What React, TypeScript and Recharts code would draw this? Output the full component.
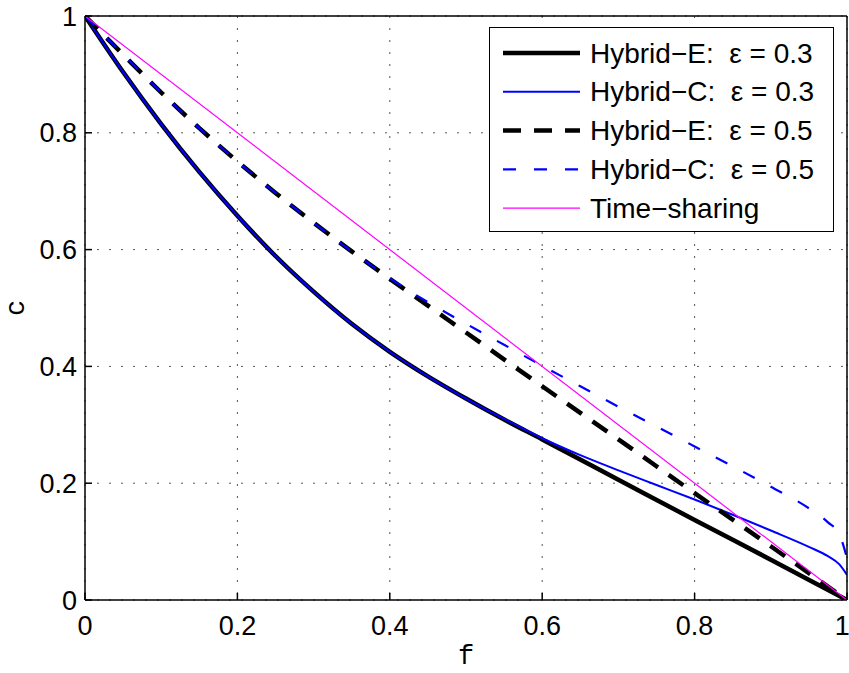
import { LineChart, Line, XAxis, YAxis, CartesianGrid, Legend, Label } from 'recharts';

// Hybrid-E, eps = 0.3
const fHybridE03 = [0, 0.05, 0.1, 0.15, 0.2, 0.25, 0.3, 0.35, 0.4, 0.45, 0.5, 0.55, 0.6, 0.7, 0.8, 0.9, 1];
const cHybridE03 = [1, 0.904, 0.815, 0.733, 0.658, 0.589, 0.528, 0.473, 0.425, 0.383, 0.345, 0.309, 0.275, 0.206, 0.137, 0.069, 0];

// Hybrid-C, eps = 0.3
const fHybridC03 = [0, 0.05, 0.1, 0.15, 0.2, 0.25, 0.3, 0.35, 0.4, 0.45, 0.5, 0.55, 0.6, 0.65, 0.7, 0.75, 0.8, 0.85, 0.9, 0.95, 0.975, 0.99, 1];
const cHybridC03 = [1, 0.904, 0.815, 0.733, 0.658, 0.589, 0.528, 0.473, 0.425, 0.383, 0.345, 0.31, 0.277, 0.248, 0.222, 0.197, 0.172, 0.146, 0.119, 0.091, 0.075, 0.061, 0.043];

// Hybrid-E, eps = 0.5
const fHybridE05 = [0, 0.05, 0.1, 0.15, 0.2, 0.25, 0.3, 0.35, 0.4, 0.45, 0.5, 0.6, 0.7, 0.8, 0.9, 1];
const cHybridE05 = [1, 0.934, 0.869, 0.808, 0.751, 0.697, 0.646, 0.597, 0.55, 0.504, 0.458, 0.366, 0.275, 0.183, 0.092, 0];

// Hybrid-C, eps = 0.5
const fHybridC05 = [0, 0.05, 0.1, 0.15, 0.2, 0.25, 0.3, 0.35, 0.4, 0.45, 0.5, 0.55, 0.6, 0.65, 0.7, 0.75, 0.8, 0.85, 0.9, 0.95, 0.975, 0.99, 1];
const cHybridC05 = [1, 0.934, 0.869, 0.808, 0.751, 0.697, 0.646, 0.597, 0.551, 0.51, 0.473, 0.437, 0.401, 0.366, 0.331, 0.297, 0.263, 0.229, 0.194, 0.157, 0.133, 0.112, 0.072];

// Time-sharing
const fTimeSharing = [0, 1];
const cTimeSharing = [1, 0];

const TICKS = [0, 0.2, 0.4, 0.6, 0.8, 1];
const TICK_LABELS = ['0', '0.2', '0.4', '0.6', '0.8', '1'];

const toPoints = (f: number[], c: number[]) => f.map((x, i) => ({ f: x, c: c[i] }));

const SERIES = [
  { name: 'Hybrid\u2212E:  \u03b5 = 0.3', data: toPoints(fHybridE03, cHybridE03), color: '#000000', width: 4.5, dash: undefined },
  { name: 'Hybrid\u2212C:  \u03b5 = 0.3', data: toPoints(fHybridC03, cHybridC03), color: '#0000ff', width: 2, dash: undefined },
  { name: 'Hybrid\u2212E:  \u03b5 = 0.5', data: toPoints(fHybridE05, cHybridE05), color: '#000000', width: 4.5, dash: '18 13' },
  { name: 'Hybrid\u2212C:  \u03b5 = 0.5', data: toPoints(fHybridC05, cHybridC05), color: '#0000ff', width: 2.2, dash: '13 18' },
  { name: 'Time\u2212sharing', data: toPoints(fTimeSharing, cTimeSharing), color: '#ff00ff', width: 1.2, dash: undefined },
];

const FONT = '"Liberation Sans", Arial, Helvetica, sans-serif';
const MONO = '"Liberation Mono", "Courier New", monospace';

const fmt = (v: number) => TICK_LABELS[TICKS.indexOf(v)] ?? String(v);

function LegendBox() {
  return (
    <div style={{ width: 345, height: 205, border: '1.5px solid #000', background: '#fff', boxSizing: 'border-box' }}>
      <svg width={342} height={202} style={{ display: 'block' }}>
        {SERIES.map((s, i) => {
          const y = 25 + i * 38.8;
          return (
            <g key={s.name}>
              <line x1={13} x2={90} y1={y} y2={y} stroke={s.color} strokeWidth={s.width} strokeDasharray={s.dash} />
              <text
                x={100}
                y={y}
                dominantBaseline="central"
                fontSize={28}
                fontFamily={FONT}
                fill="#000"
                style={{ whiteSpace: 'pre' }}
              >
                {s.name}
              </text>
            </g>
          );
        })}
      </svg>
    </div>
  );
}

export default function App() {
  const tickStyle = { fontSize: 27, fontFamily: FONT, fill: '#000' };
  return (
    <div style={{ position: 'absolute', left: 0, top: 0, background: '#fff' }}>
      <LineChart width={849} height={673} margin={{ top: 15, right: 1, bottom: 1, left: 1 }}>
        <CartesianGrid stroke="#555" strokeDasharray="2 10" strokeWidth={1} />
        <XAxis
          dataKey="f"
          type="number"
          domain={[0, 1]}
          ticks={TICKS}
          tickFormatter={fmt}
          height={72}
          tickSize={-7}
          tickMargin={23}
          stroke="#000"
          strokeWidth={1.5}
          tick={tickStyle}
          allowDataOverflow
        >
          <Label
            content={({ viewBox }: any) => (
              <text
                x={viewBox.x + viewBox.width / 2}
                y={657}
                textAnchor="middle"
                dominantBaseline="central"
                fontSize={27}
                fontFamily={MONO}
                fill="#000"
              >
                f
              </text>
            )}
          />
        </XAxis>
        <XAxis
          xAxisId="top"
          orientation="top"
          dataKey="f"
          type="number"
          domain={[0, 1]}
          ticks={TICKS}
          height={1}
          tickSize={-7}
          tick={false}
          stroke="#000"
          strokeWidth={1.5}
        />
        <YAxis
          type="number"
          domain={[0, 1]}
          ticks={TICKS}
          tickFormatter={fmt}
          width={84}
          tickSize={-7}
          tickMargin={15}
          stroke="#000"
          strokeWidth={1.5}
          tick={tickStyle}
          allowDataOverflow
        >
          <Label
            content={({ viewBox }: any) => (
              <text
                x={17}
                y={viewBox.y + viewBox.height / 2}
                textAnchor="middle"
                dominantBaseline="central"
                fontSize={27}
                fontFamily={MONO}
                fill="#000"
                transform={`rotate(-90, 17, ${viewBox.y + viewBox.height / 2})`}
              >
                c
              </text>
            )}
          />
        </YAxis>
        <YAxis
          yAxisId="right"
          orientation="right"
          type="number"
          domain={[0, 1]}
          ticks={TICKS}
          width={1}
          tickSize={-7}
          tick={false}
          stroke="#000"
          strokeWidth={1.5}
        />
        {SERIES.map((s) => (
          <Line
            key={s.name}
            data={s.data}
            dataKey="c"
            name={s.name}
            type="monotone"
            stroke={s.color}
            strokeWidth={s.width}
            strokeDasharray={s.dash}
            dot={false}
            activeDot={false}
            isAnimationActive={false}
          />
        ))}
        <Legend
          layout="vertical"
          align="center"
          verticalAlign="middle"
          content={() => <LegendBox />}
          wrapperStyle={{ left: 489, top: 27, width: 345, height: 205 }}
        />
      </LineChart>
    </div>
  );
}
